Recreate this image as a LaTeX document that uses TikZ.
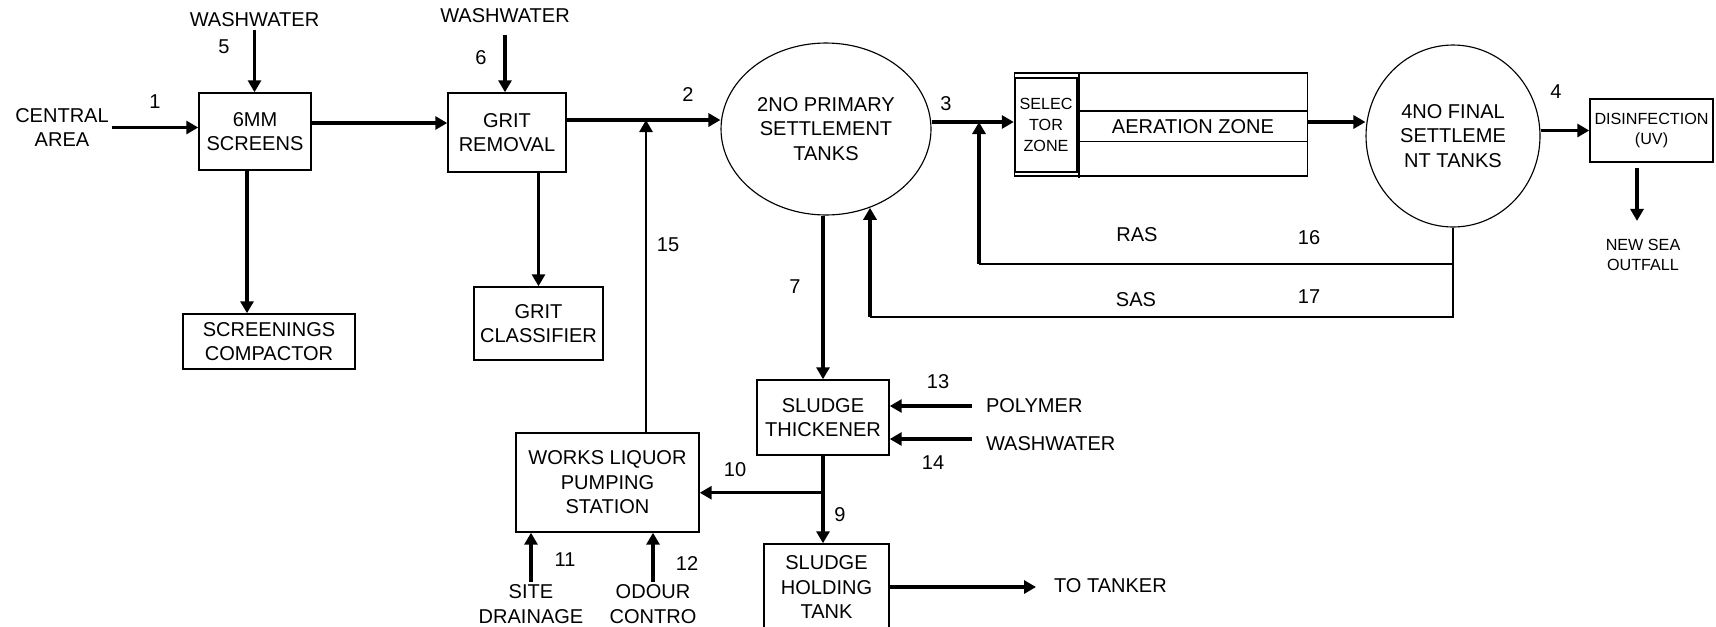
\documentclass[tikz,border=0pt]{standalone}
\usepackage{fontspec}
\setmainfont{Liberation Sans}
\usetikzlibrary{arrows.meta,shapes.geometric,calc}

\newcommand\flowfont{\fontsize{11.4}{13.9}\selectfont}
\newcommand\notefont{\fontsize{9.2}{11.8}\selectfont}

\tikzset{
  procbox/.style={draw, line width=0.85pt, align=center, inner sep=0pt, font=\flowfont},
  basin/.style={procbox, ellipse, line width=0.65pt},
  tag/.style={inner sep=1.5pt, align=center, font=\flowfont},
  flow/.style={line width=1.8pt, -{Triangle[length=0.24cm,width=0.26cm]}},
  rec/.style={line width=0.9pt},
}

\begin{document}
\begin{tikzpicture}[x=0.02cm, y=-0.02cm]
  \useasboundingbox (0,0) rectangle (1716,626);

  % process units
  \node[procbox, minimum width=2.24cm, minimum height=1.54cm] (screens) at (255,131.5) {6MM\\SCREENS};
  \node[procbox, minimum width=2.36cm, minimum height=1.58cm] (grit) at (507,132.5) {GRIT\\REMOVAL};
  \node[procbox, minimum width=3.44cm, minimum height=1.10cm] (comp) at (269,341.5) {SCREENINGS\\COMPACTOR};
  \node[procbox, minimum width=2.58cm, minimum height=1.46cm] (clas) at (538.5,323.5) {GRIT\\CLASSIFIER};
  \node[basin, minimum width=4.20cm, minimum height=3.44cm] (prim) at (826,129) {2NO PRIMARY\\SETTLEMENT\\TANKS};
  \node[procbox, minimum width=5.86cm, minimum height=2.06cm] (aer) at (1161,124.5) {};
  \node[procbox, font=\notefont, minimum width=1.24cm, minimum height=1.88cm] (sel) at (1046,125) {SELEC\\TOR\\ZONE};
  \node[basin, minimum width=3.48cm, minimum height=3.64cm] (fst) at (1453,136) {4NO FINAL\\SETTLEME\\NT TANKS};
  \node[procbox, font=\notefont, minimum width=2.46cm, minimum height=1.26cm] (dis) at (1651.5,130.5) {DISINFECTION\\(UV)};
  \node[procbox, minimum width=2.64cm, minimum height=1.50cm] (thick) at (823,417.5) {SLUDGE\\THICKENER};
  \node[procbox, minimum width=3.66cm, minimum height=1.98cm] (pump) at (607.5,482.5) {WORKS LIQUOR\\PUMPING\\STATION};
  \node[procbox, minimum width=2.50cm, minimum height=1.72cm] (hold) at (826.5,587) {SLUDGE\\HOLDING\\TANK};

  % aeration lanes
  \node[tag] (aertxt) at (1193,126.5) {AERATION ZONE};
  \draw[rec] (1079,72.5) -- (1079,178);
  \draw[rec] (1079,111) -- (1307.5,111);
  \draw[rec] (1079,141.7) -- (1307.5,141.7);

  % inlets and outlets
  \node[tag] (central) at (62,127.5) {CENTRAL\\AREA};
  \node[tag] (wash1) at (254.5,20) {WASHWATER};
  \node[tag] (wash2) at (505,16) {WASHWATER};
  \node[tag, anchor=west] (poly) at (983,406) {POLYMER};
  \node[tag, anchor=west] (wash3) at (983,444) {WASHWATER};
  \node[tag, anchor=west] (tanker) at (1051,586) {TO TANKER};
  \node[tag] (site) at (531,604) {SITE\\DRAINAGE};
  \node[tag] (odour) at (653,604) {ODOUR\\CONTRO};
  \node[tag, font=\notefont] (outfall) at (1643,255) {NEW SEA\\OUTFALL};
  \node[tag] (raslbl) at (1137,235) {RAS};
  \node[tag] (saslbl) at (1136,300) {SAS};

  % stream numbers
  \foreach \num/\px/\py in {1/155/102, 5/224/47, 6/481/58, 2/688/95, 3/946/104,
      4/1556/92, 15/668/245, 7/795/287, 13/938/382, 14/933/463, 10/735/470,
      9/840/515, 11/565/560, 12/687/563, 16/1309/238, 17/1309/297}
    \node[tag] (n\num) at (\px,\py) {\num};

  % main stream
  \draw[flow] (central.east) -- (central.east -| screens.west);
  \draw[flow] (wash1.south) -- (wash1.south |- screens.north);
  \coordinate (scrout) at ([yshift=0.17cm]screens.east);
  \draw[flow] (scrout) -- (scrout -| grit.west);
  \draw[flow, shorten <=0.18cm] (wash2.south) -- (wash2.south |- grit.north);
  \coordinate (j15) at (646,120);
  \draw[flow] (grit.east |- j15) -- (j15 -| prim.west);
  \coordinate (j16) at (979,122);
  \draw[flow] (prim.east |- j16) -- (j16 -| aer.west);
  \draw[flow] (aer.east |- j16) -- (j16 -| fst.west);
  \draw[flow] (fst.east |- dis.west) -- (dis.west);
  \coordinate (uvdn) at ([xshift=-0.29cm,yshift=-0.1cm]dis.south);
  \draw[flow, shorten >=0.3cm] (uvdn) -- (uvdn |- outfall.north);

  % side streams
  \coordinate (scrdn) at ([xshift=-0.16cm]screens.south);
  \draw[flow] (scrdn) -- (scrdn |- comp.north);
  \draw[flow] (grit.south -| clas.north) -- (clas.north);
  \draw[flow] (prim.south -| thick.north) -- (thick.north);
  \coordinate (polyin) at ([xshift=-0.23cm]poly.west);
  \draw[flow] (polyin) -- (polyin -| thick.east);
  \coordinate (wwin) at ([xshift=-0.23cm,yshift=0.1cm]wash3.west);
  \draw[flow] (wwin) -- (wwin -| thick.east);
  \draw[flow] (thick.south) -- (thick.south |- hold.north);
  \coordinate (j10) at ([yshift=-0.74cm]thick.south);
  \draw[flow] (j10) -- (j10 -| pump.east);
  \coordinate (tankin) at ([xshift=-0.3cm]tanker.west);
  \draw[flow] (hold.east) -- (hold.east -| tankin);
  \draw[flow] (site.north) -- (site.north |- pump.south);
  \draw[flow] (odour.north) -- (odour.north |- pump.south);
  \draw[flow, line width=1.5pt] (pump.north -| j15) -- (j15);

  % RAS / SAS returns
  \coordinate (ras) at (979,264);
  \coordinate (sas) at (870,317);
  \draw[rec] (fst.south) -- (fst.south |- sas) -- (sas);
  \draw[rec] (fst.south |- ras) -- (ras);
  \draw[flow] (ras) -- (j16);
  \draw[flow] (sas) -- (sas |- prim.-61.3);
\end{tikzpicture}
\end{document}
